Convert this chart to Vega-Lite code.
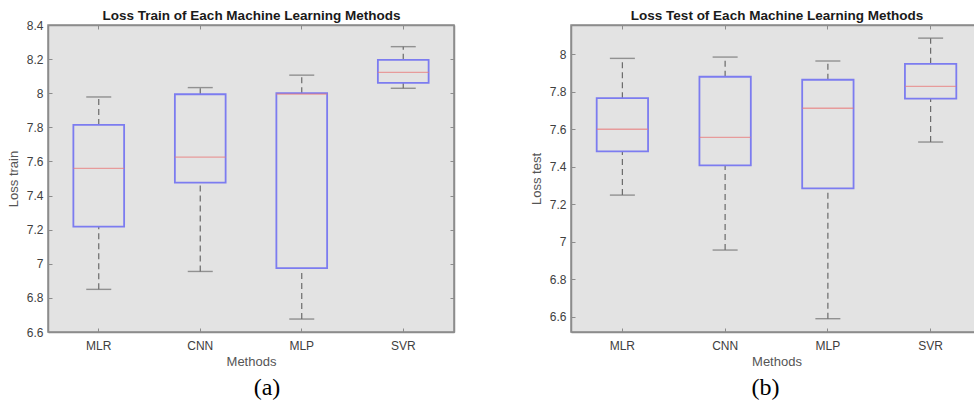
{
  "$schema": "https://vega.github.io/schema/vega-lite/v6.json",
  "autosize": {"type": "none"},
  "padding": {"left": 48, "top": 25, "right": 926, "bottom": 378},
  "background": "white",
  "datasets": {
    "train": [
      {"method": "MLR", "lower": 6.85, "q1": 7.218, "median": 7.559, "q3": 7.814, "upper": 7.978},
      {"method": "CNN", "lower": 6.955, "q1": 7.476, "median": 7.625, "q3": 7.994, "upper": 8.033},
      {"method": "MLP", "lower": 6.676, "q1": 6.974, "median": 7.995, "q3": 8.0, "upper": 8.106},
      {"method": "SVR", "lower": 8.029, "q1": 8.061, "median": 8.122, "q3": 8.196, "upper": 8.273}
    ],
    "test": [
      {"method": "MLR", "lower": 7.248, "q1": 7.481, "median": 7.599, "q3": 7.765, "upper": 7.977},
      {"method": "CNN", "lower": 6.955, "q1": 7.407, "median": 7.556, "q3": 7.879, "upper": 7.984},
      {"method": "MLP", "lower": 6.589, "q1": 7.284, "median": 7.711, "q3": 7.863, "upper": 7.963},
      {"method": "SVR", "lower": 7.531, "q1": 7.762, "median": 7.828, "q3": 7.948, "upper": 8.085}
    ]
  },
  "bounds": "flush",
  "spacing": 117,
  "hconcat": [
    {
      "width": 406,
      "height": 307,
      "data": {"name": "train"},
      "title": {"text": "(a)", "orient": "bottom", "frame": "group", "anchor": "middle", "dx": 16, "offset": 8, "font": "Liberation Serif", "fontSize": 24, "fontWeight": "normal", "color": "#000000"},
      "resolve": {"axis": {"x": "independent", "y": "independent"}},
      "layer": [
        {
          "mark": {"type": "rule", "color": "#6a6a6a", "strokeWidth": 1.2, "strokeDash": [6, 4]},
          "encoding": {
            "x": {"field": "method", "type": "nominal", "sort": ["MLR", "CNN", "MLP", "SVR"], "scale": {"type": "band", "paddingInner": 0, "paddingOuter": 0},
              "axis": {"orient": "bottom", "title": "Methods", "labelAngle": 0, "tickSize": -4, "bandPosition": 0.5, "labelPadding": 12, "titlePadding": 4}},
            "y": {"field": "lower", "type": "quantitative", "scale": {"domain": [6.6, 8.4], "nice": false, "zero": false},
              "axis": {"orient": "left", "title": "Loss train", "values": [6.6, 6.8, 7, 7.2, 7.4, 7.6, 7.8, 8, 8.2, 8.4], "format": ".1~f", "tickSize": -4, "labelPadding": 9, "titlePadding": 6}},
            "y2": {"field": "q1"}
          }
        },
        {
          "mark": {"type": "rule", "color": "#6a6a6a", "strokeWidth": 1.2, "strokeDash": [6, 4]},
          "encoding": {
            "x": {"field": "method", "type": "nominal", "sort": ["MLR", "CNN", "MLP", "SVR"], "axis": null},
            "y": {"field": "q3", "type": "quantitative", "axis": null},
            "y2": {"field": "upper"}
          }
        },
        {
          "mark": {"type": "bar", "filled": false, "color": "#7c7cf0", "strokeWidth": 1.8, "width": {"band": 0.5}},
          "encoding": {
            "x": {"field": "method", "type": "nominal", "sort": ["MLR", "CNN", "MLP", "SVR"],
              "axis": {"orient": "top", "title": "Loss Train of Each Machine Learning Methods", "labels": false, "tickSize": -4, "bandPosition": 0.5, "titleFontWeight": "bold", "titleFontSize": 13.5, "titleColor": "#1a1a1a", "titlePadding": 2}},
            "y": {"field": "q1", "type": "quantitative",
              "axis": {"orient": "right", "title": null, "labels": false, "values": [6.6, 6.8, 7, 7.2, 7.4, 7.6, 7.8, 8, 8.2, 8.4], "tickSize": -4}},
            "y2": {"field": "q3"}
          }
        },
        {
          "mark": {"type": "tick", "color": "#e87c7c", "thickness": 1.3, "size": 51},
          "encoding": {
            "x": {"field": "method", "type": "nominal", "sort": ["MLR", "CNN", "MLP", "SVR"], "axis": null},
            "y": {"field": "median", "type": "quantitative", "axis": null}
          }
        },
        {
          "mark": {"type": "tick", "color": "#6e6e6e", "thickness": 1.4, "size": 25},
          "encoding": {
            "x": {"field": "method", "type": "nominal", "sort": ["MLR", "CNN", "MLP", "SVR"], "axis": null},
            "y": {"field": "upper", "type": "quantitative", "axis": null}
          }
        },
        {
          "mark": {"type": "tick", "color": "#6e6e6e", "thickness": 1.4, "size": 25},
          "encoding": {
            "x": {"field": "method", "type": "nominal", "sort": ["MLR", "CNN", "MLP", "SVR"], "axis": null},
            "y": {"field": "lower", "type": "quantitative", "axis": null}
          }
        }
      ]
    },
    {
      "width": 411,
      "height": 307,
      "data": {"name": "test"},
      "title": {"text": "(b)", "orient": "bottom", "frame": "group", "anchor": "middle", "dx": -11, "offset": 8, "font": "Liberation Serif", "fontSize": 24, "fontWeight": "normal", "color": "#000000"},
      "resolve": {"axis": {"x": "independent", "y": "independent"}},
      "layer": [
        {
          "mark": {"type": "rule", "color": "#6a6a6a", "strokeWidth": 1.2, "strokeDash": [6, 4]},
          "encoding": {
            "x": {"field": "method", "type": "nominal", "sort": ["MLR", "CNN", "MLP", "SVR"], "scale": {"type": "band", "paddingInner": 0, "paddingOuter": 0},
              "axis": {"orient": "bottom", "title": "Methods", "labelAngle": 0, "tickSize": -4, "bandPosition": 0.5, "labelPadding": 12, "titlePadding": 4}},
            "y": {"field": "lower", "type": "quantitative", "scale": {"domain": [6.518, 8.155], "nice": false, "zero": false},
              "axis": {"orient": "left", "title": "Loss test", "values": [6.6, 6.8, 7, 7.2, 7.4, 7.6, 7.8, 8], "format": ".1~f", "tickSize": -4, "labelPadding": 9, "titlePadding": 6}},
            "y2": {"field": "q1"}
          }
        },
        {
          "mark": {"type": "rule", "color": "#6a6a6a", "strokeWidth": 1.2, "strokeDash": [6, 4]},
          "encoding": {
            "x": {"field": "method", "type": "nominal", "sort": ["MLR", "CNN", "MLP", "SVR"], "axis": null},
            "y": {"field": "q3", "type": "quantitative", "axis": null},
            "y2": {"field": "upper"}
          }
        },
        {
          "mark": {"type": "bar", "filled": false, "color": "#7c7cf0", "strokeWidth": 1.8, "width": {"band": 0.5}},
          "encoding": {
            "x": {"field": "method", "type": "nominal", "sort": ["MLR", "CNN", "MLP", "SVR"],
              "axis": {"orient": "top", "title": "Loss Test of Each Machine Learning Methods", "labels": false, "tickSize": -4, "bandPosition": 0.5, "titleFontWeight": "bold", "titleFontSize": 13.5, "titleColor": "#1a1a1a", "titlePadding": 2}},
            "y": {"field": "q1", "type": "quantitative",
              "axis": {"orient": "right", "title": null, "labels": false, "values": [6.6, 6.8, 7, 7.2, 7.4, 7.6, 7.8, 8], "tickSize": -4}},
            "y2": {"field": "q3"}
          }
        },
        {
          "mark": {"type": "tick", "color": "#e87c7c", "thickness": 1.3, "size": 51},
          "encoding": {
            "x": {"field": "method", "type": "nominal", "sort": ["MLR", "CNN", "MLP", "SVR"], "axis": null},
            "y": {"field": "median", "type": "quantitative", "axis": null}
          }
        },
        {
          "mark": {"type": "tick", "color": "#6e6e6e", "thickness": 1.4, "size": 25},
          "encoding": {
            "x": {"field": "method", "type": "nominal", "sort": ["MLR", "CNN", "MLP", "SVR"], "axis": null},
            "y": {"field": "upper", "type": "quantitative", "axis": null}
          }
        },
        {
          "mark": {"type": "tick", "color": "#6e6e6e", "thickness": 1.4, "size": 25},
          "encoding": {
            "x": {"field": "method", "type": "nominal", "sort": ["MLR", "CNN", "MLP", "SVR"], "axis": null},
            "y": {"field": "lower", "type": "quantitative", "axis": null}
          }
        }
      ]
    }
  ],
  "config": {
    "font": "Liberation Sans",
    "view": {"fill": "#e3e3e3", "stroke": "#8c8c8c", "strokeWidth": 1.5},
    "axis": {
      "labelFont": "Liberation Sans", "labelFontSize": 12, "labelColor": "#404040",
      "titleFont": "Liberation Sans", "titleFontSize": 13, "titleFontWeight": "normal", "titleColor": "#555555",
      "domainColor": "#8c8c8c", "domainWidth": 1.5, "tickColor": "#8c8c8c", "tickWidth": 1, "grid": false
    }
  }
}
